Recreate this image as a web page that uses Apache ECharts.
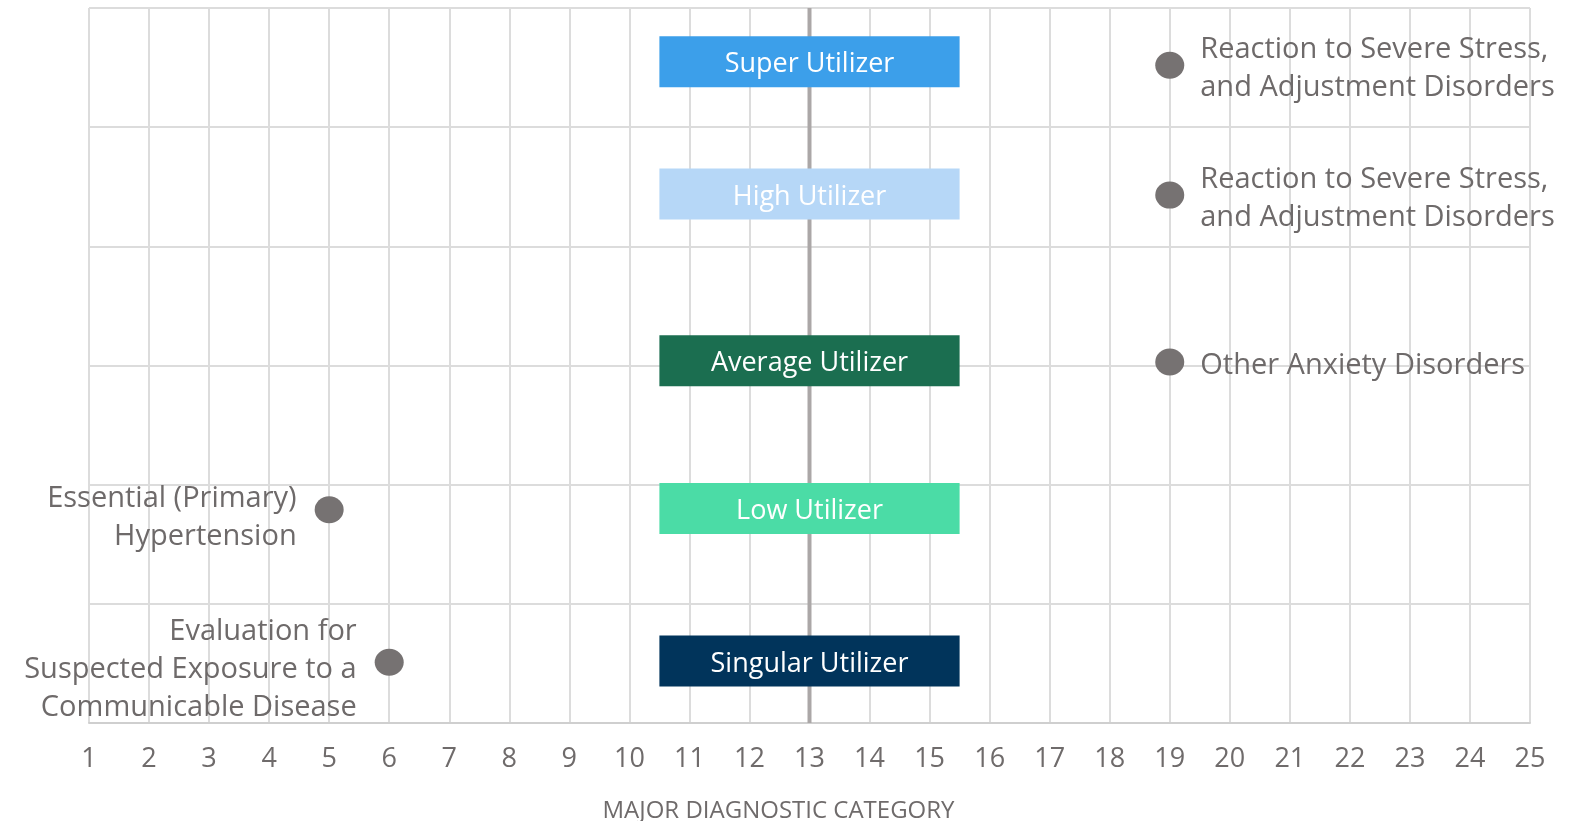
<!DOCTYPE html>
<html>
<head>
<meta charset="utf-8">
<script src="https://cdn.jsdelivr.net/npm/echarts@6/dist/echarts.min.js"></script>
<style>
  html, body { margin: 0; padding: 0; background: #fff; }
  #chart { width: 1581px; height: 821px; }
</style>
</head>
<body>
<div id="chart"></div>
<script>
// utilizer groups, drawn as boxes spanning the middle of the axis
const categories = ['Super Utilizer', 'High Utilizer', 'Average Utilizer', 'Low Utilizer', 'Singular Utilizer']
const barColors = ['#3c9fea', '#b6d7f7', '#1b6e50', '#4bdca6', '#01345b']
const barY = [5.55, 4.44, 3.04, 1.80, 0.52]
const barStart = [10.5, 10.5, 10.5, 10.5, 10.5]
const barEnd = [15.5, 15.5, 15.5, 15.5, 15.5]

// top diagnosis per group
const diagX = [19, 19, 19, 5, 6]
const diagY = [5.52, 4.43, 3.03, 1.79, 0.51]
const diagNames = [
  'Reaction to Severe Stress,\nand Adjustment Disorders',
  'Reaction to Severe Stress,\nand Adjustment Disorders',
  'Other Anxiety Disorders',
  'Essential (Primary)\nHypertension',
  'Evaluation for\nSuspected Exposure to a\nCommunicable Disease'
]

const medianX = 13
const xMin = 1
const xMax = 25
const yMin = 0
const yMax = 6

const FONT = 'Open Sans'
const textGray = '#6e6a6a'
const gridGray = '#dcdcdc'

const chart = echarts.init(document.getElementById('chart'))

const option = {
  animation: false,
  grid: { left: 89, right: 51, top: 8, bottom: 98, outerBoundsMode: 'none' },
  xAxis: {
    type: 'value',
    min: xMin,
    max: xMax,
    interval: 1,
    name: 'MAJOR DIAGNOSTIC CATEGORY',
    nameLocation: 'middle',
    nameGap: 76,
    nameTextStyle: {
      color: '#6f6b6b',
      fontFamily: FONT,
      fontSize: 24,
      padding: [0, 62, 0, 0]
    },
    axisLine: { lineStyle: { color: '#cfcfcf', width: 2 } },
    axisTick: { show: false },
    axisLabel: { color: '#6f6b6b', fontFamily: FONT, fontSize: 27, margin: 23 },
    splitLine: { lineStyle: { color: gridGray, width: 2 } }
  },
  yAxis: {
    type: 'value',
    min: yMin,
    max: yMax,
    interval: 1,
    axisLine: { show: false },
    axisTick: { show: false },
    axisLabel: { show: false },
    splitLine: { lineStyle: { color: gridGray, width: 2 } }
  },
  series: [
    {
      // median line, under the boxes
      type: 'line',
      z: 1,
      silent: true,
      symbol: 'none',
      lineStyle: { color: '#aba7a7', width: 4 },
      data: [[medianX, yMin], [medianX, yMax]]
    },
    {
      type: 'custom',
      z: 3,
      encode: { x: [0, 1], y: 2 },
      data: categories.map((c, i) => [barStart[i], barEnd[i], barY[i]]),
      renderItem: function (params, api) {
        const start = api.coord([api.value(0), api.value(2)])
        const end = api.coord([api.value(1), api.value(2)])
        const h = 51
        return {
          type: 'rect',
          shape: { x: start[0], y: start[1] - h / 2, width: end[0] - start[0], height: h },
          style: { fill: barColors[params.dataIndex] },
          textContent: {
            style: {
              text: categories[params.dataIndex],
              fill: '#fff',
              fontFamily: FONT,
              fontSize: 27
            }
          },
          textConfig: { position: 'inside', offset: [0, 3] }
        }
      }
    },
    {
      type: 'scatter',
      z: 4,
      symbolSize: [29, 27],
      itemStyle: { color: '#767272', opacity: 1 },
      data: diagX.map((x, i) => ({
        value: [x, diagY[i]],
        label: {
          show: true,
          formatter: diagNames[i],
          position: x < medianX ? 'left' : 'right',
          distance: x < medianX ? 18 : 16,
          offset: x < medianX ? [0, 8] : [0, 4],
          align: x < medianX ? 'right' : 'left',
          color: textGray,
          fontFamily: FONT,
          fontSize: 29,
          lineHeight: 38
        }
      }))
    }
  ]
}

chart.setOption(option)
</script>
</body>
</html>
